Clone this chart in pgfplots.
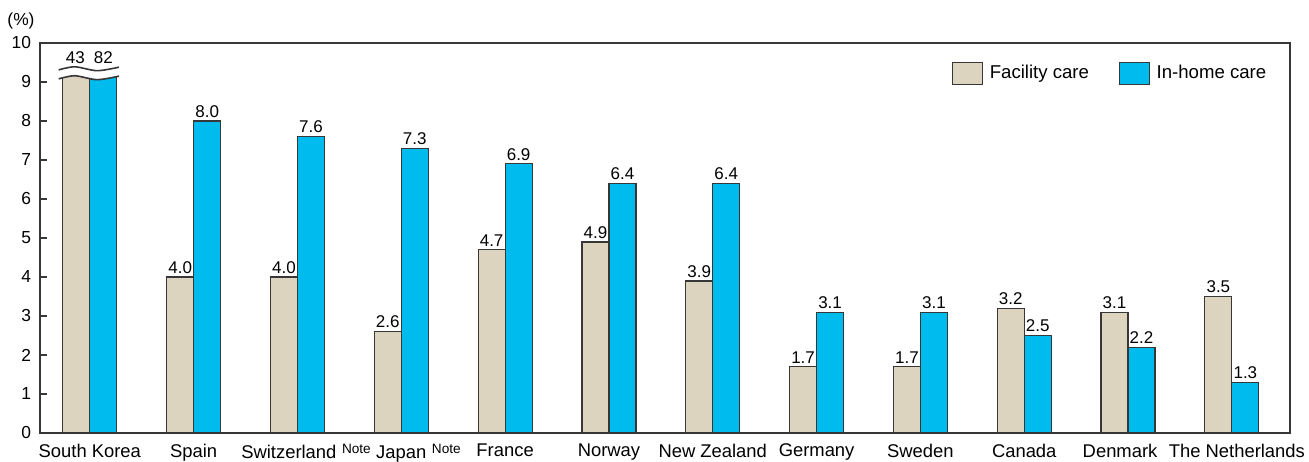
\documentclass[border=0pt]{standalone}
\usepackage{pgfplots}
\pgfplotsset{compat=1.18}
\usepackage{fontspec}
\setmainfont{Liberation Sans}

\definecolor{facility}{RGB}{220,212,190}
\definecolor{inhome}{RGB}{0,187,238}
\definecolor{edge}{RGB}{55,55,55}

% small raised "Note" marker placed after a country name
\newcommand{\note}{\rlap{\hspace{2.8pt}\raisebox{2.6pt}{\fontsize{6.8}{7}\selectfont Note}}}

\begin{document}
\begin{tikzpicture}
\begin{axis}[
  scale only axis,
  width=625pt, height=195pt,
  xmin=-0.48, xmax=11.56,
  ymin=0, ymax=10,
  clip mode=individual,
  ytick={0,1,...,10},
  ytick pos=left,
  tick align=inside,
  major tick length=3.5pt,
  tick style={edge, line width=0.6pt},
  xtick={0,1,...,11},
  xtick style={draw=none},
  xticklabels={South Korea, Spain, {Switzerland\note\kern8.6pt}, {Japan\note}, France, Norway, New Zealand, Germany, Sweden, Canada, {Denmark\kern8pt}, {\kern5pt The Netherlands}},
  xticklabel style={font=\fontsize{9.2}{10}\selectfont, yshift=1.5pt},
  yticklabel style={font=\fontsize{8.7}{10}\selectfont, xshift=-1pt},
  /pgf/number format/assume math mode=true,
  axis line style={edge, line width=0.7pt},
  ybar, bar width=0.26,
  restrict y to domain*=0:9.2,
  nodes near coords,
  point meta=explicit symbolic,
  every node near coord/.append style={font=\fontsize{8.5}{9}\selectfont, inner sep=1.5pt, text=black},
  legend columns=2,
  legend style={draw=none, fill=none, at={(rel axis cs:0.9845,0.955)}, anchor=north east,
    font=\fontsize{9.3}{10}\selectfont, inner sep=0pt,
    /tikz/every even column/.append style={column sep=13pt}},
  legend image code/.code={\draw[#1, bar shift=0pt] (0pt,-5.5pt) rectangle (15pt,5.5pt);
    \path[draw=none, fill=none] (15pt,0pt) -- (16.5pt,0pt);},
]
\addplot[fill=facility, draw=edge, line width=0.6pt, bar shift=-0.13] coordinates {
  (0,43) []
  (1,4.0) [4.0]
  (2,4.0) [4.0]
  (3,2.6) [2.6]
  (4,4.7) [4.7]
  (5,4.9) [4.9]
  (6,3.9) [3.9]
  (7,1.7) [1.7]
  (8,1.7) [1.7]
  (9,3.2) [3.2]
  (10,3.1) [3.1]
  (11,3.5) [3.5]
};
\addlegendentry{Facility care}
\addplot[fill=inhome, draw=edge, line width=0.6pt, bar shift=0.13] coordinates {
  (0,82) []
  (1,8.0) [8.0]
  (2,7.6) [7.6]
  (3,7.3) [7.3]
  (4,6.9) [6.9]
  (5,6.4) [6.4]
  (6,6.4) [6.4]
  (7,3.1) [3.1]
  (8,3.1) [3.1]
  (9,2.5) [2.5]
  (10,2.2) [2.2]
  (11,1.3) [1.3]
};
\addlegendentry{In-home care}

% broken-scale marks over the South Korea bars
\fill[white] plot[smooth] coordinates {(-0.30,9.08) (-0.145,9.16) (0.07,9.06) (0.28,9.15)}
  -- (axis cs:0.28,9.33) -- (axis cs:-0.30,9.33) -- cycle;
\draw[edge, line width=0.8pt] plot[smooth] coordinates {(-0.30,9.08) (-0.145,9.16) (0.07,9.06) (0.28,9.15)};
\draw[edge, line width=0.8pt] plot[smooth] coordinates {(-0.30,9.31) (-0.145,9.39) (0.07,9.29) (0.28,9.38)};
\node[font=\fontsize{8.5}{9}\selectfont] at (axis cs:-0.14,9.62) {43};
\node[font=\fontsize{8.5}{9}\selectfont] at (axis cs:0.13,9.62) {82};

\node[font=\fontsize{8.7}{10}\selectfont] at (rel axis cs:0,1) [xshift=-9.5pt, yshift=11pt] {(\%)};

\coordinate (bl) at (rel axis cs:0,0);
\coordinate (tr) at (rel axis cs:1,1);
\end{axis}
\pgfresetboundingbox
\path ([shift={(-20pt,-14pt)}]bl) rectangle ([shift={(9.5pt,21.5pt)}]tr);
\end{tikzpicture}
\end{document}
